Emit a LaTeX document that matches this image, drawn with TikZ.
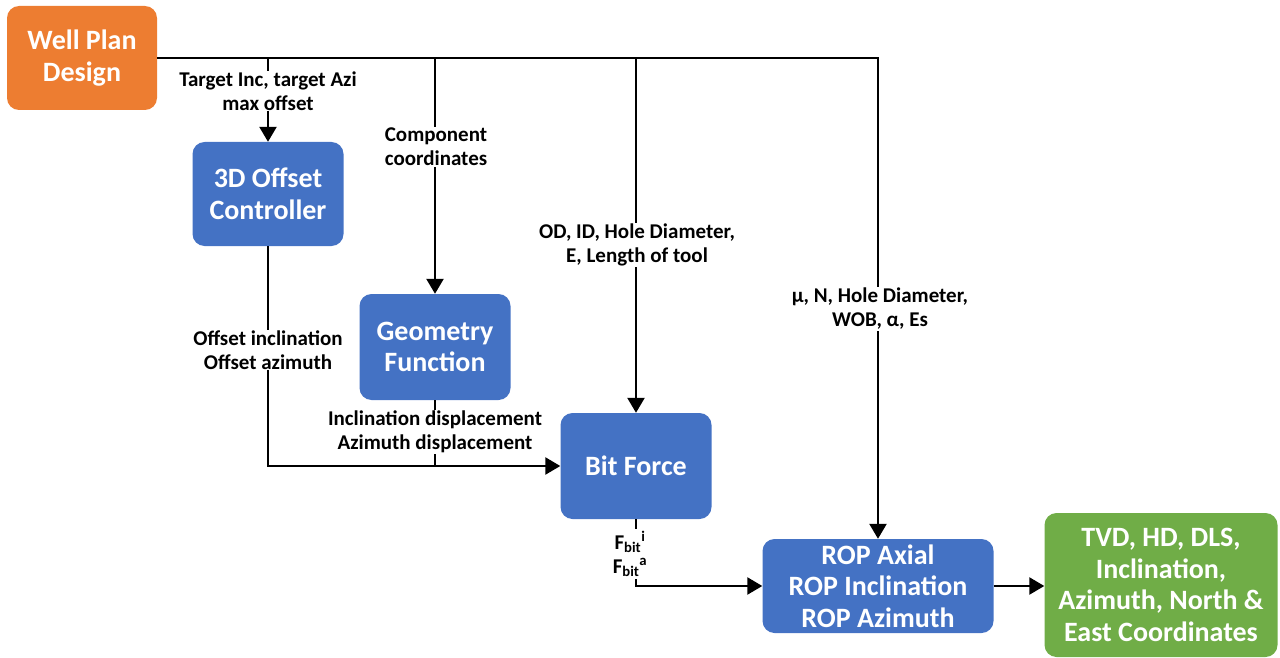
\documentclass[tikz,border=0pt]{standalone}
\usepackage{fontspec}
\setmainfont{Carlito}
\usetikzlibrary{arrows.meta}
\definecolor{wporange}{RGB}{237,125,49}
\definecolor{boxblue}{RGB}{68,114,196}
\definecolor{boxgreen}{RGB}{112,173,71}
\begin{document}
\begin{tikzpicture}[x=1pt,y=-1pt,
  box/.style={rounded corners=12pt, text=white, font=\bfseries\fontsize{28}{31.5}\selectfont, align=center, inner sep=0pt},
  lab/.style={fill=white, font=\bfseries\fontsize{21}{24}\selectfont, align=center, inner sep=1pt},
  conn/.style={line width=2.4pt},
  arr/.style={conn, -{Triangle[length=15pt,width=17pt]}}]
\useasboundingbox (0,0) rectangle (1280,658);
\node[box, fill=wporange, minimum width=150pt, minimum height=104pt] (wp) at (82,58) {Well Plan\\Design};
\node[box, fill=boxblue, minimum width=151pt, minimum height=104pt] (off) at (268,194) {3D Offset\\Controller};
\node[box, fill=boxblue, minimum width=151pt, minimum height=106pt] (geo) at (435,347) {Geometry\\Function};
\node[box, fill=boxblue, minimum width=151pt, minimum height=106pt] (bit) at (636,466) {Bit Force};
\node[box, fill=boxblue, minimum width=231pt, minimum height=94pt] (rop) at (878,586) {ROP Axial\\ROP Inclination\\ROP Azimuth};
\node[box, fill=boxgreen, minimum width=233pt, minimum height=144pt] (res) at (1161,585) {TVD, HD, DLS,\\Inclination,\\Azimuth, North \&\\East Coordinates};
% connectors
\draw[arr] (wp.east) -| (rop.north);
\draw[arr] (wp.east -| off.north) -- (off.north);
\draw[arr] (wp.east -| geo.north) -- (geo.north);
\draw[arr] (wp.east -| bit.north) -- (bit.north);
\draw[arr] (off.south) |- (bit.west);
\draw[conn] (geo.south) -- (geo.south |- bit.west);
\draw[arr] (bit.south) |- (rop.west);
\draw[arr] (rop.east) -- (rop.east -| res.west);
% labels
\node[lab] (l1) at (268,91) {Target Inc, target Azi\\max offset};
\node[lab] (l2) at (436,147) {Component\\coordinates};
\node[lab] (l3) at (637,245) {OD, ID, Hole Diameter,\\E, Length of tool};
\node[lab] (l4) at (880,309) {μ, N, Hole Diameter,\\WOB, α, Es};
\node[lab] (l5) at (268,350) {Offset inclination\\Offset azimuth};
\node[lab] (l6) at (435,432) {Inclination displacement\\Azimuth displacement};
\node[lab, inner sep=2pt] (l7) at (630,554) {F\textsubscript{bit}\textsuperscript{i}\\F\textsubscript{bit}\textsuperscript{a}};
\end{tikzpicture}
\end{document}
